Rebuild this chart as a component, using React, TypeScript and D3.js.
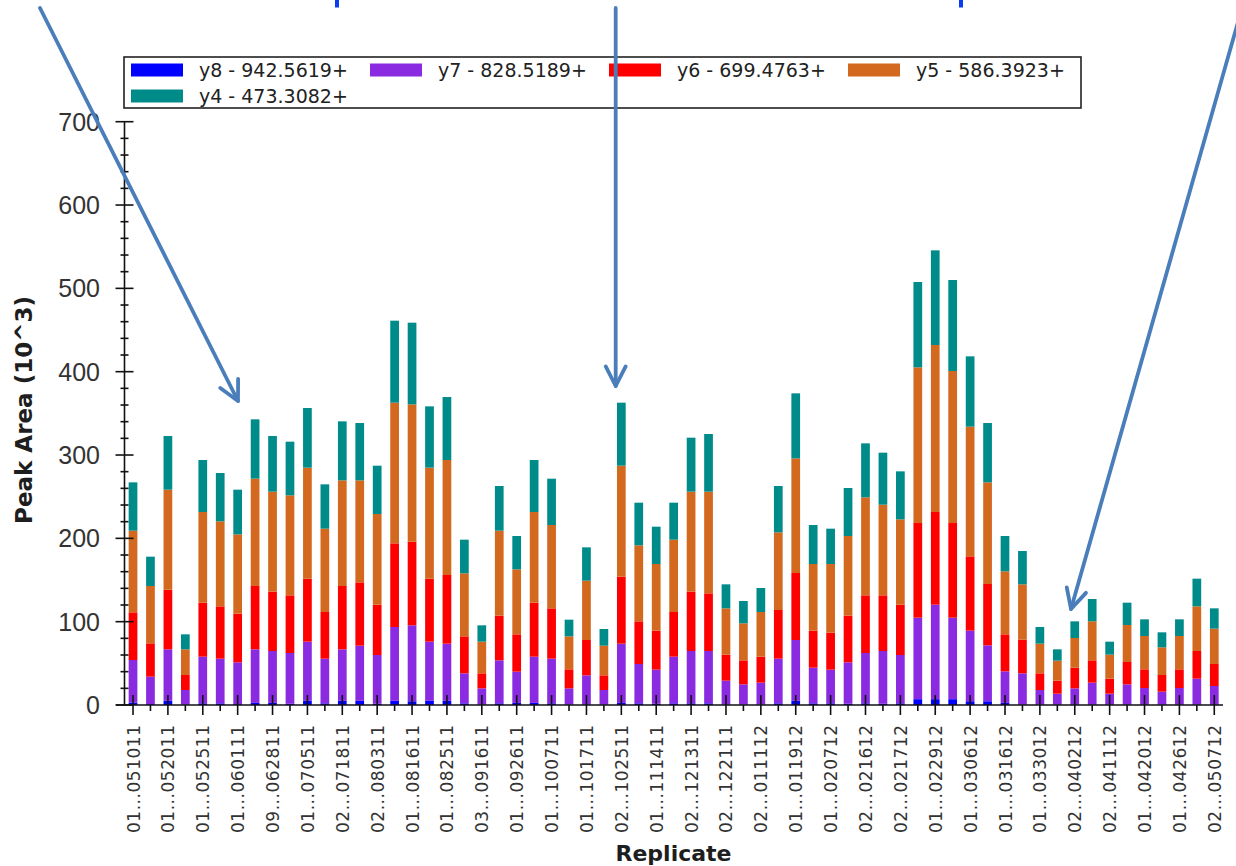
import React from "react";
import * as d3 from "d3";

// Peak areas (10^3) per replicate, one array per fragment ion (bottom to top of each stack)
const y8 = [3, 1, 5, 0.5, 2, 2, 1, 2.5, 2.5, 1.5, 5, 2, 5, 5, 1.5, 5, 4.5, 5, 5, 2, 0.5, 2, 2.5, 2.5, 2, 0.5, 0.5, 0.5, 2.5, 2, 1.5, 2, 2, 2, 0.5, 0.5, 0.5, 2, 5, 2, 2, 1.5, 2, 1.5, 2, 7, 7, 7, 4.5, 4.5, 2.5, 0.3, 0.3, 0.3, 0.3, 0.3, 0.3, 0.3, 0.3, 0.3, 0.3, 0.3, 0.3];
const y7 = [51, 33, 61.8, 17.5, 56, 53.6, 50.2, 64.3, 62.3, 60.9, 71, 53.6, 61.8, 66.2, 58.5, 88.6, 91.1, 71, 68.6, 36, 19.5, 51.6, 37.5, 55.5, 53.6, 19.5, 35.1, 17.5, 71.1, 47.2, 40.9, 56, 62.8, 62.8, 28.7, 24.3, 26.3, 53.6, 73, 42.8, 40.4, 49.7, 60.4, 63.3, 58, 97.8, 113.4, 97.8, 84.7, 67.1, 37.9, 37.7, 17.7, 13.3, 19.7, 26.5, 13.3, 24.5, 20.1, 15.7, 20.1, 31.3, 22.5];
const y6 = [57.2, 40, 71.6, 18, 64.8, 62.8, 58.4, 76, 71.2, 69.2, 75.6, 56, 76, 76, 60.4, 100.4, 100.4, 75.6, 82.4, 44.4, 18, 53.6, 44.8, 64.8, 60.4, 22.8, 42.4, 17.6, 80.4, 51.2, 46.8, 53.6, 71.2, 69.2, 31.2, 28.8, 31.2, 58.4, 80.4, 44.4, 44.4, 56, 69.2, 66.8, 60.4, 113.6, 111.2, 113.6, 89.2, 73.6, 44.4, 40.4, 20, 15.6, 24.8, 26.8, 18, 26.8, 22.4, 20, 22.4, 33.2, 26.4];
const y5 = [98, 68.8, 120, 30.8, 108.8, 102, 95.2, 128.8, 120, 120, 133.2, 100, 126.8, 122.4, 108.8, 168.8, 164.8, 133.2, 138, 75.6, 38, 102, 78, 108.8, 100, 39.6, 71.2, 35.6, 133.2, 91.2, 80, 86.8, 120, 122, 55.6, 44.4, 53.6, 93.2, 137.6, 80, 82.4, 95.6, 117.6, 108.8, 102.4, 186.8, 200.4, 182.4, 155.6, 122, 75.6, 66.4, 35.6, 24, 35.6, 46.8, 28.8, 44.4, 40, 33.2, 40, 53.6, 42.4];
const y4 = [58, 35.2, 64.4, 18, 62.4, 58, 53.6, 71.2, 66.8, 64.4, 71.6, 53.2, 70.8, 68.8, 58, 98.4, 98, 73.6, 75.6, 40.4, 19.6, 53.6, 40, 62.4, 55.6, 20, 40, 20, 75.6, 51.2, 44.8, 44.4, 64.8, 69.2, 28.8, 26.8, 28.8, 55.6, 78, 46.8, 42.4, 57.6, 64.8, 62.4, 57.6, 102.4, 113.6, 109.2, 84.4, 71.2, 42.4, 40, 20, 13.6, 20, 26.8, 15.6, 26.8, 20, 18, 20, 33.2, 24.4];

// Labels shown on every other replicate along the x axis
const tickLabels = [
  "01...051011", "01...052011", "01...052511", "01...060111", "09...062811", "01...070511",
  "02...071811", "02...080311", "01...081611", "01...082511", "03...091611", "01...092611",
  "01...100711", "01...101711", "02...102511", "01...111411", "02...121311", "02...122111",
  "02...011112", "01...011912", "01...020712", "02...021612", "02...021712", "01...022912",
  "01...030612", "01...031612", "01...033012", "02...040212", "02...041112", "01...042012",
  "01...042612", "02...050712",
];

const seriesKeys = ["y8", "y7", "y6", "y5", "y4"];
const seriesNames = ["y8 - 942.5619+", "y7 - 828.5189+", "y6 - 699.4763+", "y5 - 586.3923+", "y4 - 473.3082+"];
const seriesColors = ["#0000ff", "#8a2be2", "#ff0000", "#d2691e", "#008b8b"];
const yTickValues = [0, 100, 200, 300, 400, 500, 600, 700];

const W = 1236;
const H = 866;
const ARROW = "#4a7ebb";

type Arrow = { x1: number; y1: number; x2: number; y2: number };
const arrows: Arrow[] = [
  { x1: 40, y1: 8, x2: 238, y2: 401 },
  { x1: 615.7, y1: 8, x2: 615.7, y2: 386 },
  { x1: 1242, y1: 8, x2: 1071, y2: 609 },
];

function arrowHead(a: Arrow) {
  const ang = Math.atan2(a.y1 - a.y2, a.x1 - a.x2);
  const len = 22;
  const spread = (27 * Math.PI) / 180;
  const p1 = [a.x2 + len * Math.cos(ang + spread), a.y2 + len * Math.sin(ang + spread)];
  const p2 = [a.x2 + len * Math.cos(ang - spread), a.y2 + len * Math.sin(ang - spread)];
  return `M${p1[0]},${p1[1]}L${a.x2},${a.y2}L${p2[0]},${p2[1]}`;
}

export default function App() {
  const n = y7.length;
  const rows = d3.range(n).map((i) => ({
    i,
    y8: y8[i],
    y7: y7[i],
    y6: y6[i],
    y5: y5[i],
    y4: y4[i],
  }));
  const stacked = d3.stack<any>().keys(seriesKeys)(rows);

  const x = d3
    .scaleBand<number>()
    .domain(d3.range(n))
    .range([124.3, 1223])
    .paddingInner(0.5)
    .paddingOuter(0.25);
  const y = d3.scaleLinear().domain([0, 700]).range([705, 121.7]);
  const cx = (i: number) => (x(i) as number) + x.bandwidth() / 2;
  const minorY = d3.range(0, 701, 20).filter((v) => v % 100 !== 0);

  const axisX = 124.5;
  const legendCols = [131, 370, 609, 848];

  return (
    <svg
      width={W}
      height={H}
      viewBox={`0 0 ${W} ${H}`}
      style={{ position: "absolute", left: 0, top: 0, background: "#fff", display: "block" }}
    >
      <rect x={0} y={0} width={W} height={H} fill="#fff" />

      {/* stacked bars */}
      {stacked.map((layer, si) => (
        <g key={layer.key} fill={seriesColors[si]}>
          {layer.map((d, i) => (
            <rect
              key={i}
              x={x(i)}
              y={y(d[1])}
              width={x.bandwidth()}
              height={Math.max(0, y(d[0]) - y(d[1]))}
            />
          ))}
        </g>
      ))}

      {/* y axis */}
      <g stroke="#111" strokeWidth={1.6}>
        <line x1={axisX} x2={axisX} y1={y(700)} y2={y(0)} />
        {yTickValues.map((v) => (
          <line key={v} x1={axisX - 9} x2={axisX + 9} y1={y(v)} y2={y(v)} />
        ))}
        {minorY.map((v) => (
          <line key={v} x1={axisX - 4} x2={axisX + 4} y1={y(v)} y2={y(v)} />
        ))}
      </g>
      <g fontFamily="'Liberation Sans', Arial, sans-serif" fontSize={25} fill="#333" textAnchor="end">
        {yTickValues.map((v) => (
          <text key={v} x={100} y={y(v) + 9}>
            {v}
          </text>
        ))}
      </g>

      {/* x axis */}
      <g stroke="#111" strokeWidth={1.6}>
        <line x1={116} x2={1223} y1={705} y2={705} />
        {d3.range(n).map((i) =>
          i % 2 === 0 ? (
            <line key={i} x1={cx(i)} x2={cx(i)} y1={695} y2={715} />
          ) : (
            <line key={i} x1={cx(i)} x2={cx(i)} y1={705} y2={711} />
          )
        )}
      </g>
      <g fontFamily="'DejaVu Sans', sans-serif" fontSize={17} fill="#333">
        {tickLabels.map((t, k) => (
          <text
            key={t + k}
            transform={`translate(${cx(k * 2) + 6.5},725) rotate(-90)`}
            textAnchor="end"
            textLength={108}
            lengthAdjust="spacing"
          >
            {t}
          </text>
        ))}
      </g>

      {/* axis titles */}
      <text
        transform="translate(32,410) rotate(-90)"
        textAnchor="middle"
        fontFamily="'DejaVu Sans', sans-serif"
        fontWeight="bold"
        fontSize={23}
        fill="#1e1e1e"
      >
        Peak Area (10^3)
      </text>
      <text
        x={673.5}
        y={861}
        textAnchor="middle"
        fontFamily="'DejaVu Sans', sans-serif"
        fontWeight="bold"
        fontSize={22}
        fill="#1e1e1e"
      >
        Replicate
      </text>

      {/* legend */}
      <rect x={124} y={57} width={957} height={51} fill="#fff" stroke="#222" strokeWidth={1.6} />
      {seriesNames.map((name, si) => {
        const col = si % 4;
        const row = Math.floor(si / 4);
        const sx = legendCols[col];
        const sy = 63.5 + row * 26;
        return (
          <g key={name}>
            <rect x={sx} y={sy} width={52} height={13} fill={seriesColors[si]} />
            <text
              x={sx + 68}
              y={sy + 13.5}
              fontFamily="'DejaVu Sans', sans-serif"
              fontSize={19}
              fill="#222"
            >
              {name}
            </text>
          </g>
        );
      })}

      {/* annotation arrows */}
      <g stroke={ARROW} strokeWidth={3.8} fill="none" strokeLinecap="round" strokeLinejoin="round">
        {arrows.map((a, k) => (
          <g key={k}>
            <line x1={a.x1} y1={a.y1} x2={a.x2} y2={a.y2} />
            <path d={arrowHead(a)} />
          </g>
        ))}
      </g>
      <rect x={335} y={0} width={4} height={7.5} fill="#0a3cf2" />
      <rect x={959} y={0} width={4} height={7.5} fill="#0a3cf2" />
    </svg>
  );
}
